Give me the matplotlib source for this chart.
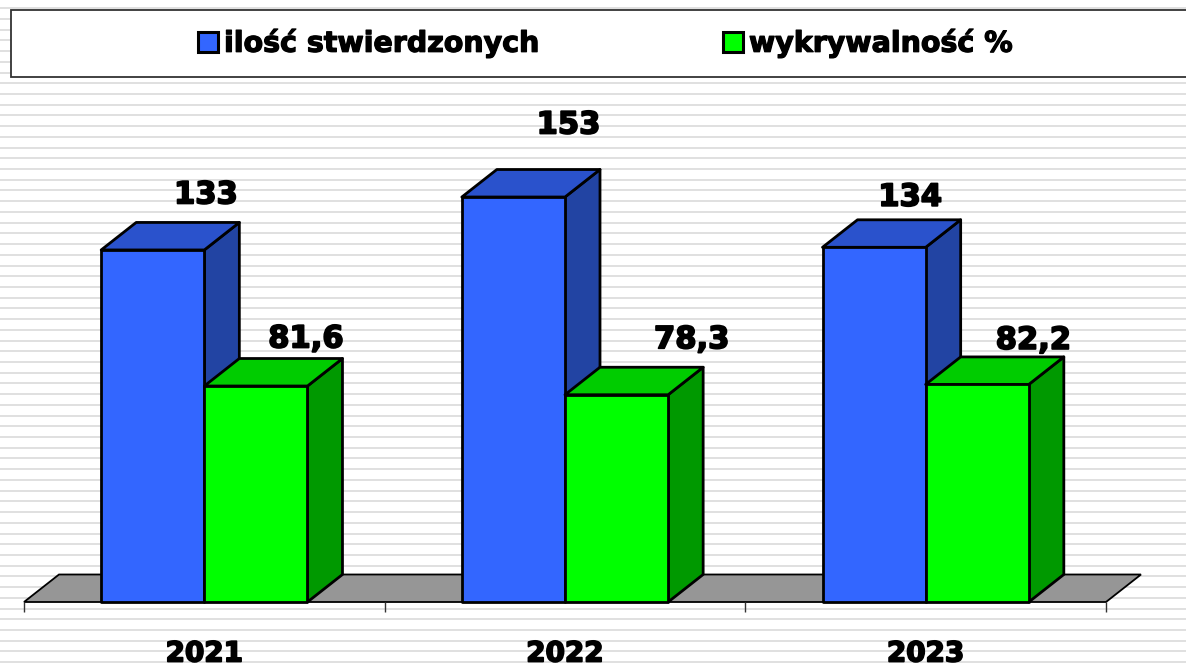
import numpy as np
import matplotlib
matplotlib.use("Agg")
import matplotlib.pyplot as plt
import matplotlib.patheffects as pe
from matplotlib.patches import Polygon, Rectangle
from matplotlib.lines import Line2D

# data
years = ["2021", "2022", "2023"]
stwierdzone = [133, 153, 134]
wykrywalnosc = [81.6, 78.3, 82.2]
labels_s = ["133", "153", "134"]
labels_w = ["81,6", "78,3", "82,2"]
legend_names = ["ilość stwierdzonych", "wykrywalność %"]

# colours: front, top, side
blue = ("#3366ff", "#2a52cc", "#2244a3")
green = ("#00ff00", "#00cc00", "#009900")

W, H = 1186, 668
fig = plt.figure(figsize=(W / 100, H / 100), dpi=100)

# striped background
bg = fig.add_axes([0, 0, 1, 1], zorder=-10)
bg.set_xlim(0, W)
bg.set_ylim(H, 0)
bg.axis("off")
for y in np.arange(94 - 8 * 10.72, H, 10.72):
    bg.axhline(y, color="#e0e0e0", lw=1.4)

# main axes, value 0 at the floor front edge
px_per_unit = 2.647
ymax = 200
ax_h = ymax * px_per_unit
ax = fig.add_axes([24 / W, 66 / H, 1082 / W, ax_h / H])
ax.patch.set_visible(False)
ax.set_xlim(-0.5, 2.5)
ax.set_ylim(0, ymax)
for s in ax.spines.values():
    s.set_visible(False)

ddx = 35 / (1082 / 3)      # depth in category units
ddy = 27.5 / px_per_unit   # depth in value units
bw = 0.286
elw = 2.0

# floor
floor = Polygon([(-0.5, 0), (2.5, 0), (2.5 + ddx, ddy), (-0.5 + ddx, ddy)],
                closed=True, facecolor="#969696", edgecolor="black", lw=1.3,
                clip_on=False, zorder=1)
ax.add_patch(floor)


def box(x0, h, cols):
    front, top, side = cols
    ax.add_patch(Polygon([(x0 + bw, 0), (x0 + bw + ddx, ddy), (x0 + bw + ddx, h + ddy), (x0 + bw, h)],
                         closed=True, facecolor=side, edgecolor="black", lw=elw,
                         clip_on=False, zorder=2, joinstyle="round"))
    ax.add_patch(Polygon([(x0, h), (x0 + bw, h), (x0 + bw + ddx, h + ddy), (x0 + ddx, h + ddy)],
                         closed=True, facecolor=top, edgecolor="black", lw=elw,
                         clip_on=False, zorder=2, joinstyle="round"))
    ax.add_patch(Rectangle((x0, 0), bw, h, facecolor=front, edgecolor="black", lw=elw,
                           clip_on=False, zorder=2, joinstyle="round"))


heavy = [pe.withStroke(linewidth=1.3, foreground="black")]

# label nudges in px (Excel places them a bit unevenly)
nudge_s = [(53, 55), (55, 72), (36, 50)]
nudge_w = [(50, 47), (75, 55), (56, 44)]

x = np.arange(len(years))
for i in x:
    box(i - bw, stwierdzone[i], blue)
    box(i, wykrywalnosc[i], green)
    ax.annotate(labels_s[i], xy=(i - bw / 2, stwierdzone[i]),
                xytext=(nudge_s[i][0] * 0.72, nudge_s[i][1] * 0.72), textcoords="offset points",
                ha="center", va="center", fontsize=22, fontweight="bold", zorder=5,
                path_effects=heavy)
    ax.annotate(labels_w[i], xy=(i + bw / 2, wykrywalnosc[i]),
                xytext=(nudge_w[i][0] * 0.72, nudge_w[i][1] * 0.72), textcoords="offset points",
                ha="center", va="center", fontsize=22, fontweight="bold", zorder=5,
                path_effects=heavy)

ax.set_yticks([])
ax.set_xticks(x)
ax.set_xticklabels(years, fontsize=20, fontweight="bold")
for t in ax.get_xticklabels():
    t.set_path_effects(heavy)
ax.tick_params(axis="x", which="major", length=0, pad=27)
ax.set_xticks([-0.5, 0.5, 1.5, 2.5], minor=True)
ax.tick_params(axis="x", which="minor", length=7.5, width=1, color="#333333")

# legend box
fig.patches.append(Rectangle((11 / W, 1 - 77 / H), 1.2, 67 / H, transform=fig.transFigure,
                             facecolor="white", edgecolor="#333333", lw=1.3, zorder=3))
handles = [Line2D([], [], ls="none", marker="s", markersize=14, markerfacecolor=c[0],
                  markeredgecolor="black", markeredgewidth=2.2) for c in (blue, green)]
leg = fig.legend(handles, legend_names, loc="center left", bbox_to_anchor=(197 / W, 1 - 43 / H),
                 ncol=2, frameon=False, prop={"size": 20.5, "weight": "bold"},
                 handlelength=0.8, handletextpad=0.15, columnspacing=6.4, borderpad=0,
                 borderaxespad=0)
for t in leg.get_texts():
    t.set_path_effects([pe.withStroke(linewidth=0.9, foreground="black")])

fig.savefig("out.png", dpi=100)
